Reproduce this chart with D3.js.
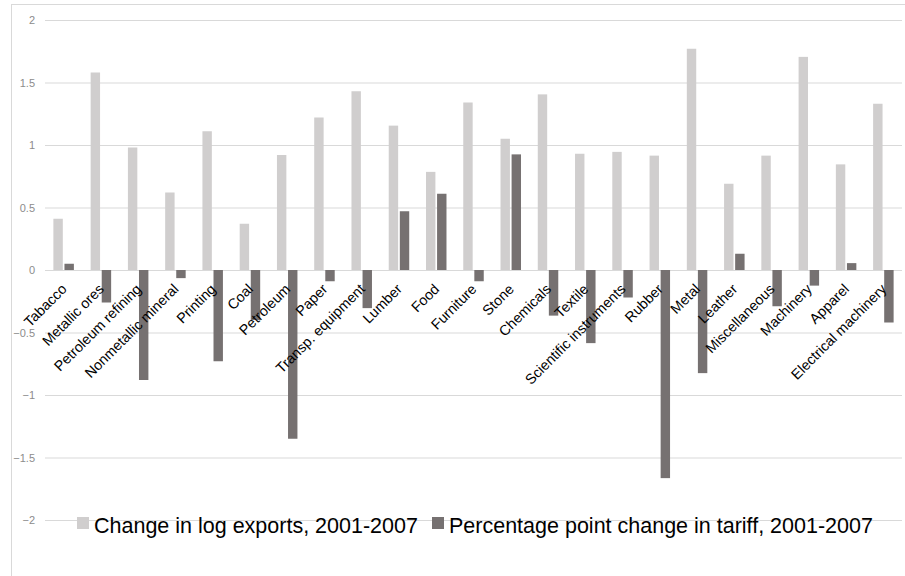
<!DOCTYPE html>
<html>
<head>
<meta charset="utf-8">
<script src="https://cdn.jsdelivr.net/npm/d3@7"></script>
<style>
  html, body { margin: 0; padding: 0; background: #fff; }
  svg { display: block; }
</style>
</head>
<body>
<svg id="chart" width="905" height="576"></svg>
<script>
// Industries, in display order
const categories = [
  "Tabacco", "Metallic ores", "Petroleum refining", "Nonmetallic mineral",
  "Printing", "Coal", "Petroleum", "Paper", "Transp. equipment", "Lumber",
  "Food", "Furniture", "Stone", "Chemicals", "Textile",
  "Scientific instruments", "Rubber", "Metal", "Leather", "Miscellaneous",
  "Machinery", "Apparel", "Electrical machinery"
];

// Change in log exports, 2001-2007
const logExports = [
  0.41, 1.58, 0.98, 0.62, 1.11, 0.37, 0.92, 1.22, 1.43, 1.155,
  0.785, 1.34, 1.05, 1.405, 0.93, 0.945, 0.915, 1.77, 0.69, 0.915,
  1.705, 0.845, 1.33
];

// Percentage point change in tariff, 2001-2007
const tariffChange = [
  0.05, -0.26, -0.88, -0.065, -0.73, -0.40, -1.35, -0.09, -0.305, 0.47,
  0.61, -0.09, 0.925, -0.365, -0.585, -0.22, -1.665, -0.825, 0.13, -0.29,
  -0.125, 0.055, -0.42
];

const seriesNames = [
  "Change in log exports, 2001-2007",
  "Percentage point change in tariff, 2001-2007"
];
const seriesColors = ["#d0cece", "#767171"];
const yTicks = [-2, -1.5, -1, -0.5, 0, 0.5, 1, 1.5, 2];

const svg = d3.select("#chart");

// Outer chart frame (only the left and top edges fall inside the view)
svg.append("rect")
  .attr("x", 11.5).attr("y", 4.5)
  .attr("width", 1000).attr("height", 1000)
  .attr("fill", "none")
  .attr("stroke", "#d9d9d9")
  .attr("stroke-width", 1);

const plot = { left: 45, right: 902, top: 20, bottom: 520 };

const x0 = d3.scaleBand()
  .domain(categories)
  .range([plot.left, plot.right])
  .paddingInner(0).paddingOuter(0);

const bw = x0.bandwidth();
const x1 = d3.scaleBand()
  .domain([0, 1])
  .range([bw * 0.225, bw * 0.775])
  .paddingInner(0.15);

const y = d3.scaleLinear()
  .domain([-2, 2])
  .range([plot.bottom, plot.top]);

// Horizontal gridlines and value labels
const yAxis = d3.axisLeft(y)
  .tickValues(yTicks)
  .tickSize(-(plot.right - plot.left))
  .tickPadding(10)
  .tickFormat(d => d3.format("")(d));

const gy = svg.append("g")
  .attr("transform", `translate(${plot.left},0)`)
  .call(yAxis);
gy.select(".domain").remove();
gy.selectAll(".tick line").attr("stroke", "#d9d9d9").attr("stroke-width", 1);
gy.selectAll(".tick text")
  .attr("fill", "#8c8c8c")
  .attr("font-family", "Liberation Sans, Arial, sans-serif")
  .attr("font-size", 11);

// Bars
const rows = categories.map((c, i) => ({ cat: c, vals: [logExports[i], tariffChange[i]] }));

const groups = svg.append("g")
  .selectAll("g")
  .data(rows)
  .join("g")
  .attr("transform", d => `translate(${x0(d.cat)},0)`);

groups.selectAll("rect")
  .data(d => d.vals.map((v, k) => ({ k, v })))
  .join("rect")
  .attr("x", d => x1(d.k))
  .attr("width", x1.bandwidth())
  .attr("y", d => y(Math.max(0, d.v)))
  .attr("height", d => Math.abs(y(d.v) - y(0)))
  .attr("fill", d => seriesColors[d.k]);

// Category labels, rotated, ending just below the zero line
svg.append("g")
  .selectAll("text")
  .data(categories)
  .join("text")
  .attr("transform", d => `translate(${x0(d) + bw / 2 + 4},${y(0) + 20}) rotate(-45)`)
  .attr("text-anchor", "end")
  .attr("font-family", "Liberation Sans, Arial, sans-serif")
  .attr("font-size", 14.3)
  .attr("fill", "#000")
  .text(d => d);

// Legend
const legendItems = [
  { name: seriesNames[0], color: seriesColors[0], x: 77 },
  { name: seriesNames[1], color: seriesColors[1], x: 432 }
];
const lg = svg.append("g");
legendItems.forEach(it => {
  lg.append("rect")
    .attr("x", it.x).attr("y", 517)
    .attr("width", 12).attr("height", 12)
    .attr("fill", it.color);
  lg.append("text")
    .attr("x", it.x + 17).attr("y", 533)
    .attr("font-family", "Liberation Sans, Arial, sans-serif")
    .attr("font-size", 21.5)
    .attr("fill", "#000")
    .text(it.name);
});
</script>
</body>
</html>
